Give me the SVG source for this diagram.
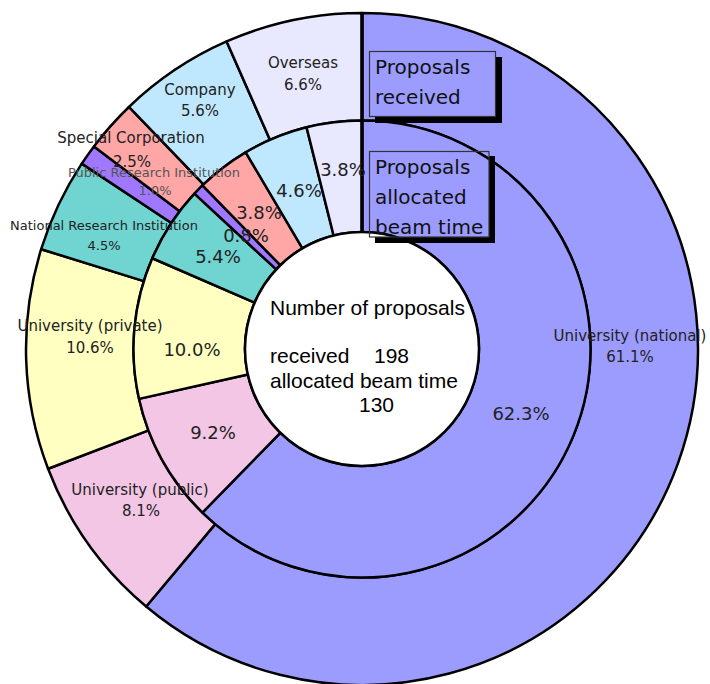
<svg xmlns="http://www.w3.org/2000/svg" width="710" height="684" viewBox="0 0 710 684">
<style>
.seg{stroke:#000;stroke-width:2.5;stroke-linejoin:round}
.nat{fill:#9c9cff}.pub{fill:#f2c6e4}.pri{fill:#ffffc2}.nri{fill:#70d4d0}.pri2{fill:#a078ff}.spc{fill:#ffa6a6}.com{fill:#bfe8ff}.ovs{fill:#e8e8ff}
.lo{font-family:"DejaVu Sans","Noto Sans",sans-serif;font-size:15px;fill:#222;text-anchor:middle}
.ls{font-family:"DejaVu Sans","Noto Sans",sans-serif;font-size:13px;fill:#222;text-anchor:middle}
.lg{font-family:"DejaVu Sans","Noto Sans",sans-serif;font-size:13px;fill:#555;text-anchor:middle}
.li{font-family:"DejaVu Sans","Noto Sans",sans-serif;font-size:18px;fill:#222;text-anchor:middle}
.ct{font-family:"Liberation Sans",Arial,sans-serif;font-size:21px;fill:#000}
.bx{font-family:"DejaVu Sans","Noto Sans",sans-serif;font-size:20px;fill:#111}
.frame{fill:none;stroke:#333;stroke-width:1.2}
</style>
<rect width="710" height="684" fill="#fff"/>
<g id="ring-received">
<path class="seg nat" d="M362,13 A336,336 0 1 1 146.19,606.54 L215.23,524.15 A228.5,228.5 0 1 0 362,120.5 Z"/>
<path class="seg pub" d="M146.19,606.54 A336,336 0 0 1 48.07,468.75 L148.51,430.44 A228.5,228.5 0 0 0 215.23,524.15 Z"/>
<path class="seg pri" d="M48.07,468.75 A336,336 0 0 1 41.17,249.19 L143.81,281.12 A228.5,228.5 0 0 0 148.51,430.44 Z"/>
<path class="seg nri" d="M41.17,249.19 A336,336 0 0 1 81.75,163.65 L171.41,222.95 A228.5,228.5 0 0 0 143.81,281.12 Z"/>
<path class="seg pri2" d="M81.75,163.65 A336,336 0 0 1 93.94,146.41 L179.7,211.23 A228.5,228.5 0 0 0 171.41,222.95 Z"/>
<path class="seg spc" d="M93.94,146.41 A336,336 0 0 1 128.93,106.98 L203.5,184.41 A228.5,228.5 0 0 0 179.7,211.23 Z"/>
<path class="seg com" d="M128.93,106.98 A336,336 0 0 1 226.62,41.48 L269.94,139.87 A228.5,228.5 0 0 0 203.5,184.41 Z"/>
<path class="seg ovs" d="M226.62,41.48 A336,336 0 0 1 362,13 L362,120.5 A228.5,228.5 0 0 0 269.94,139.87 Z"/>
</g>
<g id="ring-allocated">
<path class="seg nat" d="M362,120.5 A228.5,228.5 0 1 1 202.47,512.59 L280.31,432.77 A117,117 0 1 0 362,232 Z"/>
<path class="seg pub" d="M202.47,512.59 A228.5,228.5 0 0 1 139,398.85 L247.82,374.52 A117,117 0 0 0 280.31,432.77 Z"/>
<path class="seg pri" d="M139,398.85 A228.5,228.5 0 0 1 152.29,258.25 L254.62,302.53 A117,117 0 0 0 247.82,374.52 Z"/>
<path class="seg nri" d="M152.29,258.25 A228.5,228.5 0 0 1 194.45,193.63 L276.21,269.44 A117,117 0 0 0 254.62,302.53 Z"/>
<path class="seg pri2" d="M194.45,193.63 A228.5,228.5 0 0 1 202.47,185.41 L280.31,265.23 A117,117 0 0 0 276.21,269.44 Z"/>
<path class="seg spc" d="M202.47,185.41 A228.5,228.5 0 0 1 245.68,152.32 L302.44,248.29 A117,117 0 0 0 280.31,265.23 Z"/>
<path class="seg com" d="M245.68,152.32 A228.5,228.5 0 0 1 306.57,127.33 L333.62,235.49 A117,117 0 0 0 302.44,248.29 Z"/>
<path class="seg ovs" d="M306.57,127.33 A228.5,228.5 0 0 1 362,120.5 L362,232 A117,117 0 0 0 333.62,235.49 Z"/>
</g>
<g id="hole">
<circle cx="362" cy="349" r="117" fill="#fff" stroke="#000" stroke-width="2.5"/>
<line x1="362" y1="13" x2="362" y2="232" stroke="#000" stroke-width="3.5"/>
</g>
<g id="labels-received">
<text class="lo" x="630" y="341">University (national)</text>
<text class="lo" x="630" y="362">61.1%</text>
<text class="lo" x="140" y="495">University (public)</text>
<text class="lo" x="141" y="516">8.1%</text>
<text class="lo" x="90" y="331">University (private)</text>
<text class="lo" x="90" y="353">10.6%</text>
<text class="ls" x="104" y="230">National Research Institution</text>
<text class="ls" x="104" y="250">4.5%</text>
<text class="lo" x="131" y="143">Special Corporation</text>
<text class="lo" x="132" y="167">2.5%</text>
<text class="lg" x="154" y="177">Public Research Institution</text>
<text class="lg" x="155" y="195">1.0%</text>
<text class="lo" x="200" y="95">Company</text>
<text class="lo" x="200" y="116">5.6%</text>
<text class="lo" x="303" y="68">Overseas</text>
<text class="lo" x="303" y="90">6.6%</text>
</g>
<g id="labels-allocated">
<text class="li" x="521" y="420">62.3%</text>
<text class="li" x="213" y="439">9.2%</text>
<text class="li" x="192" y="356">10.0%</text>
<text class="li" x="218" y="263">5.4%</text>
<text class="li" x="246" y="242">0.8%</text>
<text class="li" x="259" y="219">3.8%</text>
<text class="li" x="299" y="197">4.6%</text>
<text class="li" x="343" y="176">3.8%</text>
</g>
<g id="center-text">
<text class="ct" x="270" y="315">Number of proposals</text>
<text class="ct" x="270" y="363">received</text>
<text class="ct" x="374" y="363">198</text>
<text class="ct" x="270" y="388">allocated beam time</text>
<text class="ct" x="359" y="412">130</text>
</g>
<g id="legend-received">
<path d="M496,57 H502 V123 H375 V117 H496 Z" fill="#000"/>
<rect class="frame" x="369.5" y="51.5" width="126" height="65"/>
<text class="bx" x="375" y="74">Proposals</text>
<text class="bx" x="375" y="104">received</text>
</g>
<g id="legend-allocated">
<path d="M489,156 H495 V243 H375 V237 H489 Z" fill="#000"/>
<rect class="frame" x="369.5" y="151.5" width="119.5" height="85.5"/>
<text class="bx" x="375" y="174">Proposals</text>
<text class="bx" x="375" y="204">allocated</text>
<text class="bx" x="375" y="234">beam time</text>
</g>
</svg>
